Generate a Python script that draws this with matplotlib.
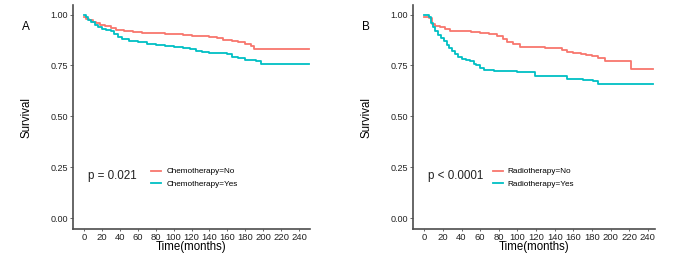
import matplotlib
matplotlib.use("Agg")
import matplotlib.pyplot as plt

plt.rcParams['font.family'] = ['Liberation Sans', 'DejaVu Sans']

RED = '#F8766D'
CYAN = '#00BFC4'
AXIS = '#4d4d4d'

x_ticks = [0, 20, 40, 60, 80, 100, 120, 140, 160, 180, 200, 220, 240]
y_ticks = [0.00, 0.25, 0.50, 0.75, 1.00]
y_labels = ['0.00', '0.25', '0.50', '0.75', '1.00']

# panel A: chemotherapy
chemo_no_t = [0, 3, 6, 10, 14, 18, 24, 30, 36, 45, 55, 65, 75, 90, 100, 110,
              120, 130, 140, 148, 155, 165, 172, 180, 186, 190, 251]
chemo_no_s = [0.987, 0.98, 0.972, 0.965, 0.958, 0.951, 0.945, 0.935, 0.922,
              0.918, 0.915, 0.912, 0.909, 0.906, 0.903, 0.9, 0.897, 0.894,
              0.89, 0.885, 0.877, 0.872, 0.866, 0.857, 0.845, 0.83, 0.83]
chemo_yes_t = [0, 2, 5, 8, 12, 16, 20, 25, 30, 34, 38, 42, 50, 60, 70, 80, 90,
               100, 110, 118, 125, 132, 140, 150, 160, 165, 172, 180, 192,
               197, 251]
chemo_yes_s = [1.0, 0.99, 0.975, 0.965, 0.95, 0.94, 0.93, 0.925, 0.918, 0.905,
               0.888, 0.88, 0.872, 0.865, 0.857, 0.852, 0.847, 0.842, 0.837,
               0.83, 0.822, 0.815, 0.812, 0.81, 0.806, 0.79, 0.785, 0.778,
               0.772, 0.755, 0.755]

# panel B: radiotherapy
radio_no_t = [0, 5, 8, 12, 17, 22, 28, 40, 50, 60, 70, 78, 85, 89, 95, 103,
              115, 130, 142, 148, 153, 160, 168, 174, 180, 186, 194, 222, 245]
radio_no_s = [0.987, 0.985, 0.955, 0.945, 0.938, 0.93, 0.92, 0.918, 0.915,
              0.91, 0.905, 0.897, 0.88, 0.865, 0.858, 0.843, 0.84, 0.838,
              0.835, 0.825, 0.815, 0.81, 0.806, 0.80, 0.795, 0.786, 0.773,
              0.735, 0.735]
radio_yes_t = [0, 5, 7, 9, 12, 15, 18, 21, 24, 27, 30, 33, 36, 40, 45, 49, 53,
               56, 60, 64, 75, 89, 100, 115, 119, 130, 153, 170, 181, 187, 245]
radio_yes_s = [1.0, 0.99, 0.96, 0.94, 0.92, 0.9, 0.885, 0.87, 0.85, 0.835,
               0.82, 0.805, 0.79, 0.782, 0.777, 0.77, 0.758, 0.75, 0.74, 0.729,
               0.725, 0.722, 0.72, 0.717, 0.7, 0.696, 0.685, 0.68, 0.673,
               0.658, 0.658]

panels = [
    dict(letter='A', rect=[0.1066, 0.1226, 0.346, 0.858], xmax=252,
         curves=[(chemo_no_t, chemo_no_s, RED, 'Chemotherapy=No'),
                 (chemo_yes_t, chemo_yes_s, CYAN, 'Chemotherapy=Yes')],
         pval='p = 0.021'),
    dict(letter='B', rect=[0.603, 0.1226, 0.353, 0.858], xmax=247.5,
         curves=[(radio_no_t, radio_no_s, RED, 'Radiotherapy=No'),
                 (radio_yes_t, radio_yes_s, CYAN, 'Radiotherapy=Yes')],
         pval='p < 0.0001'),
]

fig = plt.figure(figsize=(6.85, 2.61), dpi=100)

for p in panels:
    ax = fig.add_axes(p['rect'])
    for t, s, col, lab in p['curves']:
        ax.step(t, s, where='post', color=col, lw=1.3, label=lab)
    ax.set_xlim(-12, p['xmax'])
    ax.set_ylim(-0.054, 1.047)
    ax.set_xticks(x_ticks)
    ax.set_yticks(y_ticks)
    ax.set_yticklabels(y_labels)
    for side in ['top', 'right']:
        ax.spines[side].set_visible(False)
    for side in ['left', 'bottom']:
        ax.spines[side].set_color(AXIS)
        ax.spines[side].set_linewidth(1.2)
    ax.tick_params(axis='x', labelsize=6.8, length=1.5, width=0.6,
                   color=AXIS, pad=1.5, labelcolor='#222222')
    ax.tick_params(axis='y', labelsize=6.5, length=2, width=0.6,
                   color=AXIS, pad=1.5, labelcolor='#222222')
    ax.set_xlabel('Time(months)', fontsize=8.3, labelpad=-1)
    ax.set_ylabel('Survival', fontsize=8.3, labelpad=13)
    ax.text(0.063, 0.237, p['pval'], transform=ax.transAxes, fontsize=8.4,
            va='center', ha='left', color='#222222')
    ax.legend(loc='center left', bbox_to_anchor=(0.30, 0.228), frameon=False,
              fontsize=5.9, handlelength=1.2, handletextpad=0.6,
              labelspacing=0.6)
    x0 = p['rect'][0] - 0.075
    fig.text(x0, 0.895, p['letter'], fontsize=8.5, ha='left', va='center')

fig.savefig('out.png', dpi=100)
